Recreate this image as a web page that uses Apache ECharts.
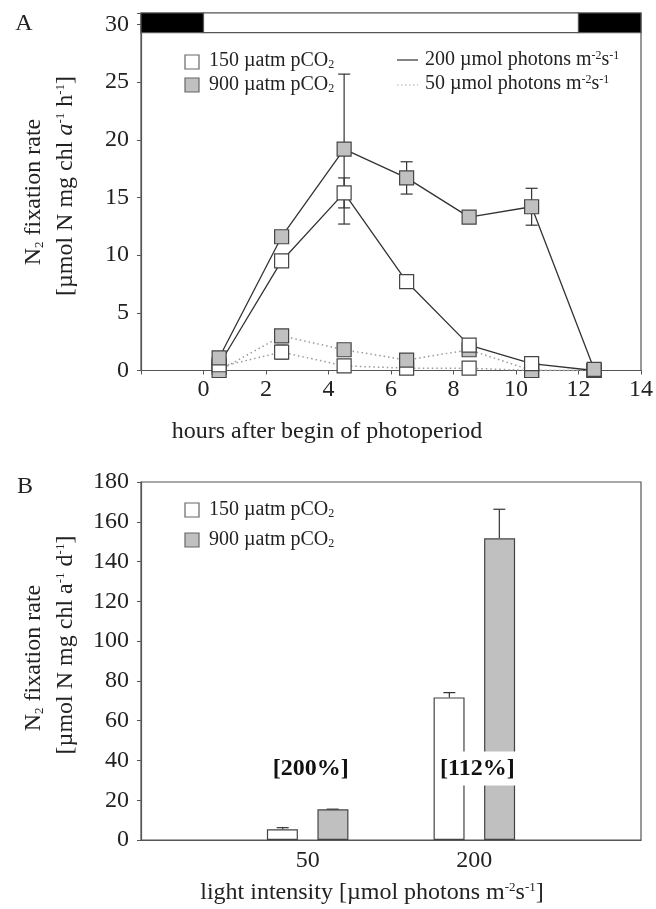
<!DOCTYPE html>
<html>
<head>
<meta charset="utf-8">
<script src="https://cdn.jsdelivr.net/npm/echarts@6/dist/echarts.min.js"></script>
<style>
html, body { margin: 0; padding: 0; background: #fff; }
#main { width: 656px; height: 909px; }
</style>
</head>
<body>
<div id="main"></div>
<script>
// panel A: hourly rates (µmol N mg chl a-1 h-1)
var hours = [0.5, 2.5, 4.5, 6.5, 8.5, 10.5, 12.5];
var low150 = [0.3, 1.6, 0.4, 0.2, 0.2, 0.0, 0.0];
var low150Err = [0, 0.6, 0.2, 0, 0, 0, 0];
var low900 = [0.0, 3.0, 1.8, 0.9, 1.8, 0.0, 0.0];
var low900Err = [0, 0.3, 0, 0, 0, 0, 0];
var high150 = [0.5, 9.5, 15.4, 7.7, 2.2, 0.6, 0.0];
var high150Err = [0, 0.3, 1.3, 0.5, 0, 0, 0];
var high900 = [1.1, 11.6, 19.2, 16.7, 13.3, 14.2, 0.1];
var high900Err = [0, 0.3, 6.5, 1.4, 0, 1.6, 0];
// dark / light bar on top of panel A
var photoperiod = [[-2, 0, 'dark'], [0, 12, 'light'], [12, 14, 'dark']];
var barTop = 31, barBottom = 29.3;

// panel B: daily rates (µmol N mg chl a-1 d-1)
var lightCats = ['', '50', '200', ''];
var daily150 = [null, 5.4, 71.7, null];
var daily150Err = [null, 0.8, 2.4, null];
var daily900 = [null, 15.4, 151.7, null];
var daily900Err = [null, 0.1, 14.6, null];
var ratioLabels = ['', '[200%]', '[112%]', ''];
var ratioY = 36;

var FONT = 'Liberation Serif';
var AXC = '#555';
var GRAY = '#c0c0c0';
var BAR_W = 31, BAR_OFF = 25;

var chart = echarts.init(document.getElementById('main'));

// error bars for panel A (both whiskers)
function errA(ys, errs, z) {
    var d = [];
    hours.forEach(function (h, i) {
        if (errs[i] > 0) d.push([h, ys[i] - errs[i], ys[i] + errs[i]]);
    });
    return {
        type: 'custom', xAxisIndex: 0, yAxisIndex: 0, z: z, silent: true,
        data: d,
        renderItem: function (params, api) {
            var lo = api.coord([api.value(0), api.value(1)]);
            var hi = api.coord([api.value(0), api.value(2)]);
            var st = { stroke: '#333', lineWidth: 1.2 };
            return { type: 'group', children: [
                { type: 'line', shape: { x1: lo[0], y1: lo[1], x2: hi[0], y2: hi[1] }, style: st },
                { type: 'line', shape: { x1: lo[0] - 6, y1: lo[1], x2: lo[0] + 6, y2: lo[1] }, style: st },
                { type: 'line', shape: { x1: hi[0] - 6, y1: hi[1], x2: hi[0] + 6, y2: hi[1] }, style: st }
            ] };
        }
    };
}

// error bars for panel B (upper whisker only)
function errB(ys, errs, off) {
    var d = [];
    ys.forEach(function (v, i) {
        if (v != null) d.push([i, v, v + errs[i]]);
    });
    return {
        type: 'custom', xAxisIndex: 1, yAxisIndex: 1, z: 1, silent: true,
        data: d,
        renderItem: function (params, api) {
            var lo = api.coord([api.value(0), api.value(1)]);
            var hi = api.coord([api.value(0), api.value(2)]);
            var x = lo[0] + off;
            var st = { stroke: '#333', lineWidth: 1.2 };
            return { type: 'group', children: [
                { type: 'line', shape: { x1: x, y1: lo[1], x2: x, y2: hi[1] }, style: st },
                { type: 'line', shape: { x1: x - 6, y1: hi[1], x2: x + 6, y2: hi[1] }, style: st }
            ] };
        }
    };
}

function lineA(ys, fill, dotted, z) {
    return {
        type: 'line', xAxisIndex: 0, yAxisIndex: 0, z: z,
        data: hours.map(function (h, i) { return [h, ys[i]]; }),
        symbol: 'rect', symbolSize: 14,
        itemStyle: { color: fill, borderColor: '#444', borderWidth: 1.2 },
        lineStyle: dotted ? { color: '#9a9a9a', width: 1.5, type: [1.5, 3] } : { color: '#333', width: 1.3 },
        animation: false
    };
}

var rich = {
    sup: { fontSize: 13, fontFamily: FONT, verticalAlign: 'top', fill: '#222' },
    sub: { fontSize: 13, fontFamily: FONT, verticalAlign: 'bottom', fill: '#222' },
    it: { fontSize: 24, fontFamily: FONT, fontStyle: 'italic', fill: '#222' }
};
var legRich = {
    sup: { fontSize: 12, fontFamily: FONT, verticalAlign: 'top', fill: '#222' },
    sub: { fontSize: 12, fontFamily: FONT, verticalAlign: 'bottom', fill: '#222' }
};

function txt(x, y, text, size, rot, r, align) {
    return {
        type: 'text', x: x, y: y, rotation: rot || 0, silent: true,
        style: {
            text: text, fontSize: size, fontFamily: FONT, fill: '#222',
            textAlign: align || 'center', textVerticalAlign: 'middle', rich: r || rich
        }
    };
}

var axisCommon = {
    axisLine: { show: true, onZero: false, lineStyle: { color: AXC, width: 1.2 } },
    axisTick: { show: true, inside: false, length: 4, lineStyle: { color: AXC } },
    splitLine: { show: false },
    axisLabel: { fontFamily: FONT, fontSize: 24, color: '#222' }
};

var option = {
    animation: false,
    backgroundColor: '#fff',
    grid: [
        { left: 141, top: 13, right: 15, height: 357.5, show: true, borderColor: AXC, borderWidth: 1.2 },
        { left: 141, top: 482, right: 15, height: 358, show: true, borderColor: AXC, borderWidth: 1.2 }
    ],
    xAxis: [
        echarts.util.merge({
            gridIndex: 0, type: 'value', min: -2, max: 14, interval: 2,
            axisLabel: { margin: 7, formatter: function (v) { return v < 0 ? '' : v; } }
        }, axisCommon),
        echarts.util.merge({
            gridIndex: 1, type: 'category', data: lightCats, boundaryGap: false,
            axisTick: { show: false },
            axisLabel: { margin: 9, interval: 0 }
        }, axisCommon)
    ],
    yAxis: [
        echarts.util.merge({
            gridIndex: 0, type: 'value', min: 0, max: barTop, interval: 5,
            axisLabel: { margin: 12, formatter: function (v) { return v > 30 ? '' : v; } }
        }, axisCommon),
        echarts.util.merge({
            gridIndex: 1, type: 'value', min: 0, max: 180, interval: 20,
            axisLabel: { margin: 12 }
        }, axisCommon)
    ],
    series: [
        {
            type: 'custom', xAxisIndex: 0, yAxisIndex: 0, z: 5, silent: true,
            data: photoperiod,
            renderItem: function (params, api) {
                var p0 = api.coord([api.value(0), barTop]);
                var p1 = api.coord([api.value(1), barBottom]);
                var dark = photoperiod[params.dataIndex][2] === 'dark';
                return {
                    type: 'rect',
                    shape: { x: p0[0], y: p0[1], width: p1[0] - p0[0], height: p1[1] - p0[1] },
                    style: { fill: dark ? '#000' : '#fff', stroke: AXC, lineWidth: 1.2 }
                };
            }
        },
        errA(low150, low150Err, 2),
        errA(low900, low900Err, 2),
        errA(high150, high150Err, 2),
        errA(high900, high900Err, 2),
        lineA(low150, '#fff', true, 3),
        lineA(low900, GRAY, true, 4),
        lineA(high150, '#fff', false, 5),
        lineA(high900, GRAY, false, 6),
        {
            type: 'bar', xAxisIndex: 1, yAxisIndex: 1, data: daily150, barWidth: BAR_W, barGap: '63%', z: 2,
            itemStyle: { color: '#fff', borderColor: '#444', borderWidth: 1.2 }
        },
        {
            type: 'bar', xAxisIndex: 1, yAxisIndex: 1, data: daily900, barWidth: BAR_W, barGap: '63%', z: 2,
            itemStyle: { color: GRAY, borderColor: '#444', borderWidth: 1.2 }
        },
        errB(daily150, daily150Err, -BAR_OFF),
        errB(daily900, daily900Err, BAR_OFF),
        {
            type: 'scatter', xAxisIndex: 1, yAxisIndex: 1, symbolSize: 0, z: 10, silent: true,
            itemStyle: { opacity: 1 },
            data: [[1, ratioY], [2, ratioY]],
            label: {
                show: true, position: 'inside', offset: [3, 0],
                formatter: function (p) { return ratioLabels[p.data[0]]; },
                fontFamily: FONT, fontSize: 24, fontWeight: 'bold', color: '#111', opacity: 1,
                backgroundColor: '#fff', padding: [5, 2]
            }
        }
    ],
    graphic: [
        txt(24, 24, 'A', 24),
        txt(25, 487, 'B', 24),
        // legend panel A
        { type: 'rect', shape: { x: 185, y: 55, width: 14, height: 14 }, style: { fill: '#fff', stroke: '#666', lineWidth: 1.2 } },
        { type: 'rect', shape: { x: 185, y: 78, width: 14, height: 14 }, style: { fill: GRAY, stroke: '#666', lineWidth: 1.2 } },
        txt(209, 61, '150 µatm pCO{sub|2}', 20, 0, legRich, 'left'),
        txt(209, 85, '900 µatm pCO{sub|2}', 20, 0, legRich, 'left'),
        { type: 'line', shape: { x1: 397, y1: 60, x2: 418, y2: 60 }, style: { stroke: '#333', lineWidth: 1.2 } },
        { type: 'line', shape: { x1: 397, y1: 85, x2: 418, y2: 85 }, style: { stroke: '#aaa', lineWidth: 1.2, lineDash: [1.5, 2.5] } },
        txt(425, 60, '200 µmol photons m{sup|-2}s{sup|-1}', 20, 0, legRich, 'left'),
        txt(425, 84, '50 µmol photons m{sup|-2}s{sup|-1}', 20, 0, legRich, 'left'),
        // legend panel B
        { type: 'rect', shape: { x: 185, y: 503, width: 14, height: 14 }, style: { fill: '#fff', stroke: '#666', lineWidth: 1.2 } },
        { type: 'rect', shape: { x: 185, y: 533, width: 14, height: 14 }, style: { fill: GRAY, stroke: '#666', lineWidth: 1.2 } },
        txt(209, 510, '150 µatm pCO{sub|2}', 20, 0, legRich, 'left'),
        txt(209, 540, '900 µatm pCO{sub|2}', 20, 0, legRich, 'left'),
        // axis titles
        txt(327, 432, 'hours after begin of photoperiod', 24),
        txt(372, 893, 'light intensity [µmol photons m{sup|-2}s{sup|-1}]', 24),
        txt(34, 192, 'N{sub|2} fixation rate', 24, Math.PI / 2),
        txt(66, 186, '[µmol N mg chl {it|a}{sup|-1} h{sup|-1}]', 24, Math.PI / 2),
        txt(34, 658, 'N{sub|2} fixation rate', 24, Math.PI / 2),
        txt(66, 645, '[µmol N mg chl a{sup|-1} d{sup|-1}]', 24, Math.PI / 2)
    ]
};

chart.setOption(option);
</script>
</body>
</html>
